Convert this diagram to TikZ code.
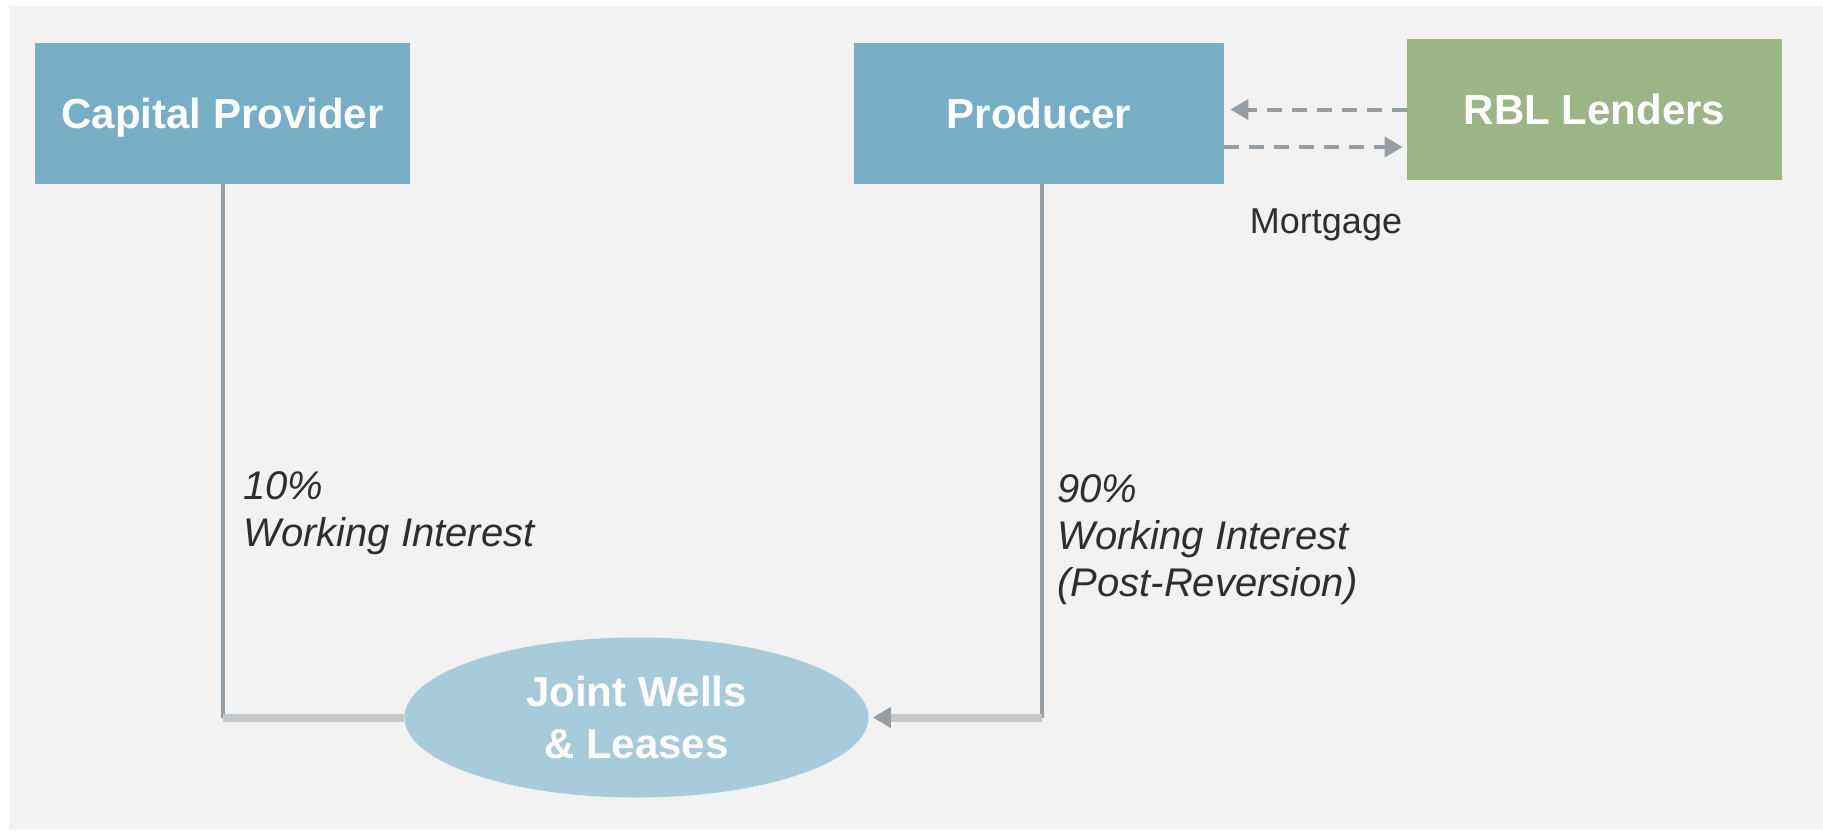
\documentclass[tikz,border=0pt]{standalone}
\usepackage{fontspec}
\setmainfont{Liberation Sans}
\usetikzlibrary{arrows.meta,shapes.geometric}
\definecolor{panel}{HTML}{F2F2F2}
\definecolor{partyblue}{HTML}{78ADC6}
\definecolor{lendergreen}{HTML}{9BB587}
\definecolor{assetblue}{HTML}{A7CBDA}
\definecolor{linkgray}{HTML}{969EA3}
\definecolor{linklight}{HTML}{C4C8CB}
\definecolor{labelink}{HTML}{2E2E2E}

\begin{document}
\begin{tikzpicture}[x=0.5pt,y=-0.5pt,
  party/.style={rectangle, fill=#1, draw=none, minimum height=70.5pt,
    inner sep=0pt, text=white, font=\fontsize{21}{25}\selectfont\bfseries,
    text height=15pt, text depth=0pt},
  asset/.style={ellipse, fill=assetblue, draw=none, minimum width=232pt,
    minimum height=80pt, inner sep=0pt, align=center, text=white,
    font=\fontsize{21}{26}\selectfont\bfseries},
  vlink/.style={draw=linkgray, line width=2pt},
  hlink/.style={draw=linklight, line width=4pt},
  dlink/.style={draw=linkgray, line width=2pt, dash pattern=on 7.5pt off 5pt,
    -{Triangle[length=9pt,width=10pt]}},
  wlabel/.style={anchor=north west, align=left, inner sep=0pt, text=labelink,
    font=\fontsize{20}{23.5}\selectfont\itshape},
]
% canvas and grey panel
\fill[white] (0,0) rectangle (1823,830);
\useasboundingbox (0,0) rectangle (1823,830);
\fill[panel] (9,6) rectangle (1823,829);

% parties
\node[party=partyblue, minimum width=187.5pt] (cap) at (222.5,113.5) {Capital Provider};
\node[party=partyblue, minimum width=185pt] (prod) at (1039,113.5) {Producer};
\node[party=lendergreen, minimum width=187.5pt] (rbl) at (1594.5,109.5) {RBL Lenders};

% shared asset
\node[asset] (jw) at (636.5,717.5) {Joint Wells\\\& Leases};

% capital provider interest
\coordinate (capcorner) at (cap.south |- jw.west);
\draw[vlink] (cap.south) -- (capcorner);
\draw[hlink] (capcorner) -- (jw.west);

% producer interest
\coordinate (prodfoot) at ([xshift=1.5pt]prod.south);
\coordinate (prodcorner) at (prodfoot |- jw.east);
\draw[vlink] (prodfoot) -- (prodcorner);
\draw[hlink, -{Triangle[length=9pt,width=10pt,color=linkgray]}, shorten >=2pt]
  (prodcorner) -- (jw.east);

% lending relationship
\draw[dlink, shorten >=3pt] (rbl.west) -- (rbl.west -| prod.east);
\coordinate (mtgstart) at ([yshift=-16.75pt]prod.east);
\draw[dlink, shorten >=2pt] (mtgstart) -- (mtgstart -| rbl.west);
\node[anchor=base, inner sep=0pt, text=labelink, font=\fontsize{18}{22}\selectfont]
  (mtg) at (1326,233) {Mortgage};

% interest labels
\node[wlabel] (capshare) at (243,471) {10\%\\Working Interest};
\node[wlabel] (prodshare) at (1057,474) {90\%\\Working Interest\\(Post-Reversion)};
\end{tikzpicture}
\end{document}
